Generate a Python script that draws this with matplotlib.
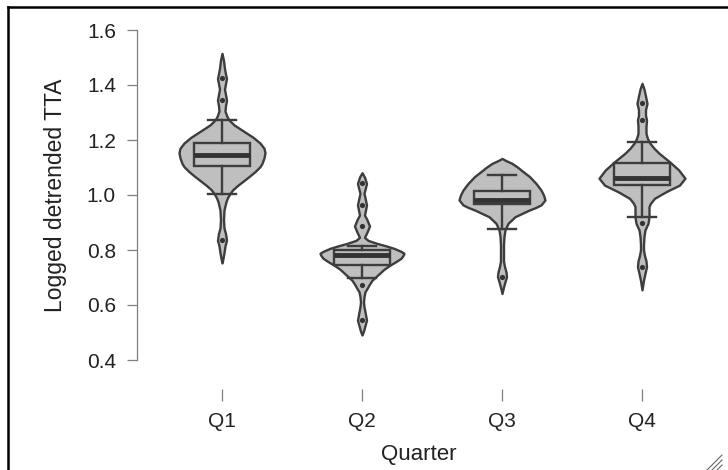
import matplotlib
matplotlib.use("Agg")
import matplotlib.pyplot as plt
from matplotlib.lines import Line2D

plt.rcParams['font.family'] = ['Liberation Sans', 'DejaVu Sans']

categories = ["Q1", "Q2", "Q3", "Q4"]
y_ticks = [0.4, 0.6, 0.8, 1.0, 1.2, 1.4, 1.6]

# violin outlines: value and relative half-width (px)
q1_vals = [1.515, 1.49, 1.46, 1.44, 1.424, 1.405, 1.385, 1.365, 1.345, 1.325, 1.305, 1.285, 1.273, 1.255,
           1.236, 1.21, 1.189, 1.17, 1.154, 1.135, 1.115, 1.103, 1.085, 1.067, 1.05, 1.036, 1.02, 1.006,
           0.99, 0.976, 0.945, 0.91, 0.88, 0.86, 0.836, 0.815, 0.79, 0.77, 0.753]
q1_wid = [0, 1.5, 2.5, 3.5, 4.5, 3.5, 2.5, 3.5, 4.5, 3.5, 3, 5, 7, 12,
          20, 31, 38, 42, 43, 42, 40, 38, 33, 27, 21, 16, 11, 8,
          5.5, 4, 2, 1.5, 2, 3.5, 4.5, 3, 2, 1, 0]
q2_vals = [1.081, 1.065, 1.042, 1.02, 1.006, 0.99, 0.964, 0.945, 0.927, 0.91, 0.887, 0.865, 0.846, 0.835,
           0.824, 0.815, 0.806, 0.795, 0.788, 0.78, 0.77, 0.758, 0.745, 0.73, 0.715, 0.70, 0.69, 0.673,
           0.66, 0.648, 0.63, 0.61, 0.594, 0.575, 0.545, 0.525, 0.505, 0.491]
q2_wid = [0, 2.5, 4.5, 3, 2, 3, 4.5, 3.5, 2.5, 5, 7.5, 5, 2.5, 6,
          15, 24, 32, 39, 42, 41, 39, 34, 28, 22, 17.5, 13, 10, 7,
          5, 3, 2, 1.5, 2, 3, 4.5, 3, 1.5, 0]
q3_vals = [1.133, 1.125, 1.115, 1.10, 1.091, 1.067, 1.042, 1.018, 1.0, 0.982, 0.964, 0.955, 0.945, 0.933,
           0.921, 0.897, 0.873, 0.85, 0.82, 0.79, 0.76, 0.74, 0.72, 0.703, 0.685, 0.665, 0.642]
q3_wid = [0, 4, 10, 16, 19, 27.5, 34, 39, 41.5, 43, 39, 34, 27, 20,
          13, 6, 3, 2, 1.5, 1.5, 1.5, 2.5, 4, 4.5, 3, 1.5, 0]
q4_vals = [1.406, 1.385, 1.36, 1.333, 1.31, 1.29, 1.273, 1.25, 1.224, 1.205, 1.188, 1.17, 1.152, 1.121,
           1.091, 1.061, 1.036, 1.012, 0.988, 0.97, 0.958, 0.94, 0.921, 0.897, 0.873, 0.85, 0.82, 0.80,
           0.78, 0.76, 0.739, 0.715, 0.69, 0.655]
q4_wid = [0, 2, 3.5, 5, 3.5, 3.5, 4.5, 4, 4, 5.5, 8, 12, 17, 27.5,
          36.7, 43, 37.5, 24, 12.5, 8.5, 7, 7, 7, 6, 3, 2, 1.5, 1.5,
          2.5, 4, 4.5, 3, 1.5, 0]

# box statistics
whis_lo = [1.004, 0.697, 0.875, 0.921]
box_q1 = [1.105, 0.747, 0.966, 1.036]
box_med = [1.145, 0.782, 0.982, 1.061]
box_q3 = [1.188, 0.800, 1.016, 1.115]
whis_hi = [1.273, 0.815, 1.073, 1.192]

# outlying points
out_q1 = [1.424, 1.345, 0.836]
out_q2 = [1.042, 0.964, 0.887, 0.673, 0.545]
out_q3 = [0.703]
out_q4 = [1.333, 1.273, 0.897, 0.739]

W, H, DPI = 728, 470, 100
fig = plt.figure(figsize=(W / DPI, H / DPI), dpi=DPI)
ax = fig.add_axes([137 / W, 1 - 360 / H, (700 - 137) / W, (360 - 30) / H])

edge = "#3d3d3d"
fill = "#bfbfbf"
px_per_unit = 140.0

violins = [(q1_vals, q1_wid), (q2_vals, q2_wid), (q3_vals, q3_wid), (q4_vals, q4_wid)]
for i, (vals, wid) in enumerate(violins):
    pos = i + 1
    hw = [w / px_per_unit for w in wid]
    left = [pos - h for h in hw]
    right = [pos + h for h in hw]
    ax.fill_betweenx(vals, left, right, facecolor=fill, edgecolor=edge, linewidth=1.7, zorder=2)

stats = []
for i in range(4):
    stats.append(dict(whislo=whis_lo[i], q1=box_q1[i], med=box_med[i], q3=box_q3[i],
                      whishi=whis_hi[i], fliers=[]))
ax.bxp(stats, positions=[1, 2, 3, 4], widths=0.4, capwidths=0.2, patch_artist=True,
       showfliers=False, manage_ticks=False,
       boxprops=dict(facecolor=fill, edgecolor=edge, linewidth=1.7),
       whiskerprops=dict(color=edge, linewidth=1.7),
       capprops=dict(color=edge, linewidth=1.7),
       medianprops=dict(color="#333333", linewidth=3.5, solid_capstyle='butt'),
       zorder=3)

for i, pts in enumerate([out_q1, out_q2, out_q3, out_q4]):
    ax.scatter([i + 1] * len(pts), pts, s=14, color="#333333", zorder=4, linewidths=0)

ax.set_xlim(1 - 85 / 140, 4 + 58 / 140)
ax.set_ylim(0.4, 1.6)
ax.set_yticks(y_ticks)
ax.set_yticklabels([f"{v:.1f}" for v in y_ticks])
ax.set_xticks([1, 2, 3, 4])
ax.set_xticklabels(categories)

for s in ["top", "right"]:
    ax.spines[s].set_visible(False)
ax.spines["left"].set_bounds(0.4, 1.6)
ax.spines["left"].set_color("#7f7f7f")
ax.spines["left"].set_linewidth(0.9)
ax.spines["bottom"].set_position(("outward", 21))
ax.spines["bottom"].set_visible(False)

ax.tick_params(axis="y", direction="out", length=7.2, width=0.9, color="#7f7f7f",
               labelsize=15, labelcolor="#222222", pad=8)
ax.tick_params(axis="x", direction="out", length=8.6, width=0.9, color="#7f7f7f",
               labelsize=15, labelcolor="#222222", pad=8)
ax.set_ylabel("Logged detrended TTA", fontsize=16.5, color="#222222", labelpad=14)
ax.set_xlabel("Quarter", fontsize=16, color="#222222", labelpad=9)
ax.patch.set_alpha(0)

# frame lines (left and top) of the surrounding panel
fig.lines.append(Line2D([8 / W, 8 / W], [0, 1 - 7 / H], transform=fig.transFigure,
                        color="black", linewidth=1.8, solid_capstyle='projecting'))
fig.lines.append(Line2D([8 / W, 1], [1 - 7 / H, 1 - 7 / H], transform=fig.transFigure,
                        color="black", linewidth=1.8, solid_capstyle='projecting'))
# resize grip
for off in [0, 5, 10]:
    fig.lines.append(Line2D([(707 + off) / W, 722 / W], [1 - 470 / H, 1 - (455 + off) / H],
                            transform=fig.transFigure, color="#666666", linewidth=0.8))

fig.savefig("out.png", dpi=DPI)
